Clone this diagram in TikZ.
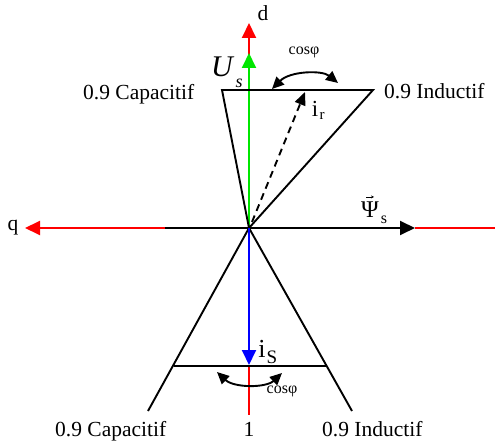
\documentclass[tikz,border=0pt]{standalone}
\usepackage{fontspec}
\setmainfont{Liberation Serif}
\usetikzlibrary{arrows.meta}
\definecolor{vred}{RGB}{255,0,0}
\definecolor{vgreen}{RGB}{0,230,0}
\definecolor{vblue}{RGB}{0,0,255}
\begin{document}
\begin{tikzpicture}[x=1pt,y=-1pt,
  ln/.style={line width=1.9pt},
  bigtip/.style={-{Triangle[length=15pt,width=14pt]}},
  smalltip/.style={{Triangle[length=12pt,width=11pt]}-{Triangle[length=12pt,width=11pt]}},
  lbl/.style={inner sep=0pt,font=\fontsize{21.5}{24}\selectfont},
  small/.style={inner sep=0pt,font=\fontsize{16}{18}\selectfont}]
\useasboundingbox (0,0) rectangle (495,446);
% coordinates
\coordinate (O) at (249,228);
\coordinate (dtip) at (249,23);
\coordinate (gtip) at (249,53);
\coordinate (qtip) at (25,228);
\coordinate (qend) at (165,228);
\coordinate (ptip) at (415,228);
\coordinate (rend) at (495,228);
\coordinate (TL) at (222,90);
\coordinate (TR) at (373,90);
\coordinate (BL) at (148,411);
\coordinate (BR) at (352,411);
\coordinate (BLm) at (174,366);
\coordinate (BRm) at (326,366);
\coordinate (btip) at (249,365);
\coordinate (bstart) at (249,366);
\coordinate (bend) at (249,415);
\coordinate (irtip) at (305,92);
\coordinate (irstart) at (252,222);
\coordinate (a1) at (272,89);
\coordinate (a2) at (338,83);
\coordinate (b1) at (217,372);
\coordinate (b2) at (282,373);
% axes
\draw[ln,vred,bigtip] (O) -- (dtip);
\draw[ln,vgreen,bigtip] (O) -- (gtip);
\draw[ln,vred,bigtip] (qend) -- (qtip);
\draw[ln,vred] (ptip) -- (rend);
\draw[ln,bigtip] (qend) -- (ptip);
\draw[ln,vred] (bstart) -- (bend);
% triangles
\draw[ln,line join=miter] (TL) -- (TR) -- (O) -- cycle;
\draw[ln] (BL) -- (O) -- (BR);
\draw[ln] (BLm) -- (BRm);
\draw[ln,vblue,bigtip] (O) -- (btip);
% dashed current
\draw[ln,dash pattern=on 7pt off 5pt,-{Triangle[length=13pt,width=11pt]}] (irstart) -- (irtip);
% cos phi arcs
\draw[ln,smalltip] (a1) .. controls (290,71) and (322,70) .. (a2);
\draw[ln,smalltip] (b1) .. controls (234,388) and (266,388) .. (b2);
% labels
\node[lbl] (d) at (263,13) {d};
\node[inner sep=0pt,font=\fontsize{30}{30}\selectfont\itshape] (U) at (222,67) {U};
\node[inner sep=0pt,font=\fontsize{18}{20}\selectfont\itshape] (Us) at (239,83) {s};
\node[lbl,anchor=base west] (capT) at (83,100) {0.9 Capacitif};
\node[lbl,anchor=base west] (indT) at (384,99) {0.9 Inductif};
\node[small] (cosT) at (304,52) {cosφ};
\node[inner sep=0pt,font=\fontsize{23}{24}\selectfont] (ir) at (315,109) {i};
\node[inner sep=0pt,font=\fontsize{15}{16}\selectfont] (irs) at (322,116) {r};
\node[inner sep=0pt,font=\fontsize{24}{24}\selectfont] (psi) at (370,210) {Ψ};
\draw[line width=0.7pt,-{Stealth[length=3pt,width=3pt]}] ([xshift=-4pt,yshift=5pt]psi.north) -- ([xshift=4pt,yshift=5pt]psi.north);
\node[inner sep=0pt,font=\fontsize{16}{18}\selectfont] (psis) at (384,220) {s};
\node[lbl] (q) at (13,228) {q};
\node[inner sep=0pt,font=\fontsize{26}{26}\selectfont] (is) at (262,349) {i};
\node[inner sep=0pt,font=\fontsize{19}{20}\selectfont] (iss) at (272,357) {S};
\node[small] (cosB) at (282,391) {cosφ};
\node[lbl,anchor=base] (one) at (249,436) {1};
\node[lbl,anchor=base west] (capB) at (55,436) {0.9 Capacitif};
\node[lbl,anchor=base west] (indB) at (322,436) {0.9 Inductif};
\end{tikzpicture}
\end{document}
